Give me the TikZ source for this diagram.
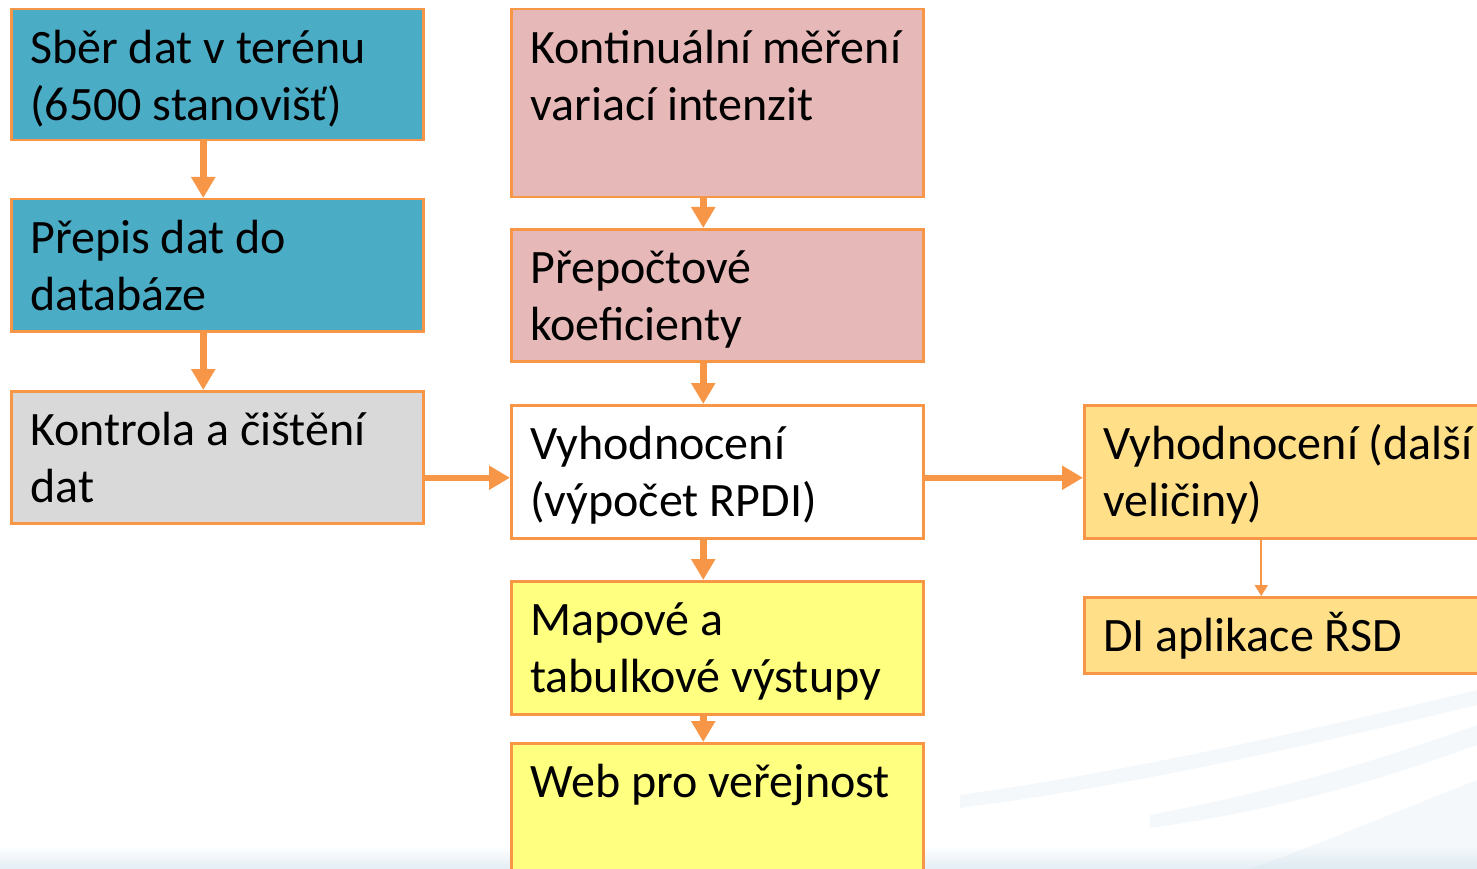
\documentclass[tikz,border=0pt]{standalone}
\usepackage{fontspec}
\setmainfont{Carlito}
\usetikzlibrary{arrows.meta,positioning}
\definecolor{edgeorange}{HTML}{F79646}
\definecolor{fieldblue}{HTML}{4BACC6}
\definecolor{checkgrey}{HTML}{D9D9D9}
\definecolor{measpink}{HTML}{E6B9B8}
\definecolor{outyellow}{HTML}{FFFF80}
\definecolor{othergold}{HTML}{FFDF88}
\definecolor{swooshblue}{HTML}{C9DCE8}
\tikzset{
	stage/.style={draw=edgeorange, line width=2.5pt, anchor=north west,
		minimum width=412pt, text width=374pt, align=flush left,
		inner xsep=19pt, inner ysep=0pt, text height=54pt,
		font=\fontsize{48}{57}\selectfont},
	flow/.style={draw=edgeorange, line width=6.5pt,
		-{Triangle[width=23pt,length=21pt]}},
	thinflow/.style={draw=edgeorange, line width=2pt,
		-{Triangle[width=13pt,length=11pt]}},
	swoosh/.style={fill=swooshblue, fill opacity=0.2},
}

\begin{document}
\begin{tikzpicture}[x=1pt, y=-1pt]
	\useasboundingbox (0,0) rectangle (1477,869);
	\clip (0,0) rectangle (1477,869);
	% background of the slide
	\shade[top color=white, bottom color=swooshblue!50] (0,845) rectangle (1477,869);
	\fill[swoosh] (960,795) .. controls (1100,775) and (1250,745) .. (1477,690)
		-- (1477,705) .. controls (1250,760) and (1100,790) .. (960,808) -- cycle;
	\fill[swoosh] (1150,815) .. controls (1280,790) and (1380,760) .. (1477,725)
		-- (1477,745) .. controls (1380,780) and (1280,810) .. (1150,828) -- cycle;
	\fill[swoosh] (1250,869) .. controls (1330,840) and (1400,810) .. (1477,780)
		-- (1477,869) -- cycle;
	% left column
	\node[stage, fill=fieldblue, text depth=77pt] (sber) at (10,8)
		{Sběr dat v terénu\\(6500 stanovišť)};
	\node[stage, fill=fieldblue, text depth=78pt] (prepis) at (10,198)
		{Přepis dat do\\databáze};
	\node[stage, fill=checkgrey, text depth=78pt] (kontrola) at (10,390)
		{Kontrola a čištění\\dat};
	% middle column
	\node[stage, fill=measpink, text depth=134pt] (mereni) at (510,8)
		{Kontinuální měření\\variací intenzit};
	\node[stage, fill=measpink, text depth=78pt] (koef) at (510,228)
		{Přepočtové\\koeficienty};
	\node[stage, fill=white, text depth=79pt] (rpdi) at (510,404)
		{Vyhodnocení\\(výpočet RPDI)};
	\node[stage, fill=outyellow, text depth=79pt] (vystupy) at (510,580)
		{Mapové a\\tabulkové výstupy};
	\node[stage, fill=outyellow, text depth=134pt] (web) at (510,742)
		{Web pro veřejnost};
	% right column
	\node[stage, fill=othergold, text depth=79pt] (dalsi) at (1083,404)
		{Vyhodnocení (další\\veličiny)};
	\node[stage, fill=othergold, text depth=22pt] (rsd) at (1083,596)
		{DI aplikace ŘSD};
	% arrows
	\draw[flow] ([xshift=-14pt]sber.south) -- ([xshift=-14pt]prepis.north);
	\draw[flow] ([xshift=-14pt]prepis.south) -- ([xshift=-14pt]kontrola.north);
	\draw[flow] ([xshift=-14pt]mereni.south) -- ([xshift=-14pt]koef.north);
	\draw[flow] ([xshift=-14pt]koef.south) -- ([xshift=-14pt]rpdi.north);
	\draw[flow] ([xshift=-14pt]rpdi.south) -- ([xshift=-14pt]vystupy.north);
	\draw[flow] ([xshift=-14pt]vystupy.south) -- ([xshift=-14pt]web.north);
	\coordinate (rpdiin) at ([yshift=-6pt]rpdi.west);
	\draw[flow] (kontrola.east |- rpdiin) -- (rpdiin);
	\draw[flow] ([yshift=-6pt]rpdi.east) -- ([yshift=-6pt]dalsi.west);
	\draw[thinflow] ([xshift=-29pt]dalsi.south) -- ([xshift=-29pt]rsd.north);
\end{tikzpicture}
\end{document}
